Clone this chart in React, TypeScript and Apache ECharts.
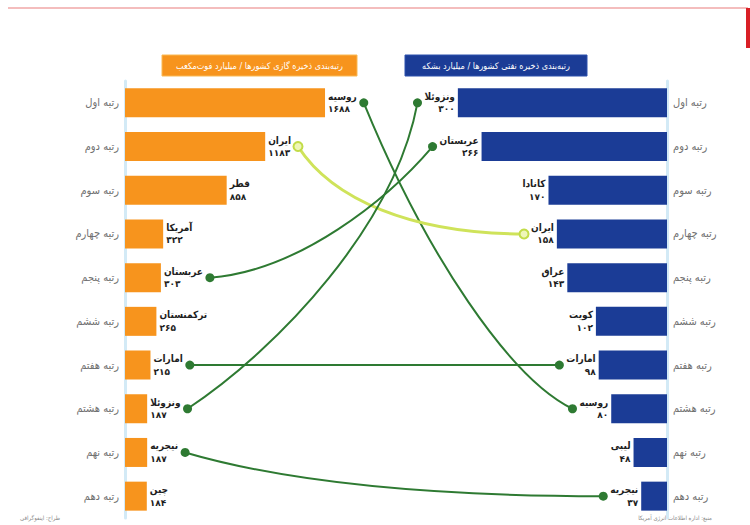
import React, { useEffect, useRef } from 'react';
import * as echarts from 'echarts';

// ---------- data ----------
const ranks = ['رتبه اول', 'رتبه دوم', 'رتبه سوم', 'رتبه چهارم', 'رتبه پنجم', 'رتبه ششم', 'رتبه هفتم', 'رتبه هشتم', 'رتبه نهم', 'رتبه دهم'];
const gasCountries = ['روسیه', 'ایران', 'قطر', 'آمریکا', 'عربستان', 'ترکمنستان', 'امارات', 'ونزوئلا', 'نیجریه', 'چین'];
const gasValues = [1688, 1183, 858, 322, 303, 265, 215, 187, 187, 184];
const oilCountries = ['ونزوئلا', 'عربستان', 'کانادا', 'ایران', 'عراق', 'کویت', 'امارات', 'روسیه', 'لیبی', 'نیجریه'];
const oilValues = [300, 266, 170, 158, 143, 102, 98, 80, 48, 37];
const gasTitle = 'رتبه‌بندی ذخیره گازی کشورها / میلیارد فوت‌مکعب';
const oilTitle = 'رتبه‌بندی ذخیره نفتی کشورها / میلیارد بشکه';
const sourceText = 'منبع: اداره اطلاعات انرژی آمریکا';
const creditText = 'طراح: اینفوگرافی';

// ---------- styles ----------
const FONT = '"DejaVu Sans Condensed", "DejaVu Sans", sans-serif';
const NUM_FONT = '"DejaVu Sans", sans-serif';
const ORANGE = '#f7941d';
const BLUE = '#1b3c96';
const GREEN = '#2e7a32';
const LIME = '#cfe35a';
// control point fractions (of dx, dy from the start point) for each link's curve
const curveShape: Record<string, { c1: [number, number]; c2: [number, number]; color: string; width: number }> = {
  'روسیه': { c1: [0.3, 0.5], c2: [0.7, 0.9], color: GREEN, width: 2 },
  'ایران': { c1: [0.15, 0.6], c2: [0.5, 1.0], color: LIME, width: 3 },
  'عربستان': { c1: [0.4, 0.05], c2: [0.8, 0.6], color: GREEN, width: 2 },
  'امارات': { c1: [0.33, 0.33], c2: [0.67, 0.67], color: GREEN, width: 2 },
  'ونزوئلا': { c1: [0.4, 0.2], c2: [0.9, 0.6], color: GREEN, width: 2 },
  'نیجریه': { c1: [0.25, 0.7], c2: [0.6, 1.0], color: GREEN, width: 2 },
};

const faDigits = '۰۱۲۳۴۵۶۷۸۹';
const toFa = (n: number) => String(n).replace(/\d/g, (d) => faDigits[Number(d)]);

const NAME_SIZE = 10;
const VAL_SIZE = 9;
const NAME_FONT = `bold ${NAME_SIZE}px ${FONT}`;
const VAL_FONT = `bold ${VAL_SIZE}px ${NUM_FONT}`;
const LABEL_DIST = 3;
const DOT_GAP = 7;

let measureCtx: CanvasRenderingContext2D | null = null;
function textWidth(text: string, font: string) {
  if (!measureCtx) measureCtx = document.createElement('canvas').getContext('2d');
  if (!measureCtx) return text.length * 6;
  measureCtx.font = font;
  return measureCtx.measureText(text).width;
}

const richLabel = {
  n: { fontSize: NAME_SIZE, fontWeight: 'bold', color: '#1e1e1e', fontFamily: FONT, lineHeight: 13 },
  v: { fontSize: VAL_SIZE, fontWeight: 'bold', color: '#1e1e1e', fontFamily: NUM_FONT, lineHeight: 13 },
};

export default function App() {
  const ref = useRef<HTMLDivElement>(null);

  useEffect(() => {
    if (!ref.current) return;
    const chart = echarts.init(ref.current, undefined, { renderer: 'svg' });

    const catAxisLabel = { color: '#707070', fontSize: 11, fontFamily: FONT, margin: 6 };
    const axisLine = { show: true, lineStyle: { color: '#d3eaf6', width: 3 } };

    chart.setOption({
      animation: false,
      backgroundColor: '#ffffff',
      grid: [
        { left: 125, top: 81, width: 237, height: 437 },
        { right: 83, top: 81, width: 244, height: 437 },
      ],
      xAxis: [
        { gridIndex: 0, type: 'value', min: 0, max: 2000, show: false },
        { gridIndex: 1, type: 'value', min: 0, max: 350, inverse: true, show: false },
      ],
      yAxis: [
        { gridIndex: 0, type: 'category', data: ranks, inverse: true, axisLine, axisTick: { show: false }, axisLabel: catAxisLabel, splitLine: { show: false } },
        { gridIndex: 1, type: 'category', data: ranks, inverse: true, position: 'right', axisLine, axisTick: { show: false }, axisLabel: catAxisLabel, splitLine: { show: false } },
      ],
      series: [
        {
          type: 'bar',
          xAxisIndex: 0,
          yAxisIndex: 0,
          data: gasValues,
          barWidth: 29,
          itemStyle: { color: ORANGE },
          label: {
            show: true,
            position: 'right',
            distance: LABEL_DIST,
            align: 'left',
            formatter: (p: any) => `{n|${gasCountries[p.dataIndex]}}\n{v|${toFa(gasValues[p.dataIndex])}}`,
            rich: richLabel,
          },
        },
        {
          type: 'bar',
          xAxisIndex: 1,
          yAxisIndex: 1,
          data: oilValues,
          barWidth: 29,
          itemStyle: { color: BLUE },
          label: {
            show: true,
            position: 'left',
            distance: LABEL_DIST,
            align: 'right',
            formatter: (p: any) => `{n|${oilCountries[p.dataIndex]}}\n{v|${toFa(oilValues[p.dataIndex])}}`,
            rich: { n: { ...richLabel.n, align: 'right' }, v: { ...richLabel.v, align: 'right' } },
          },
        },
      ],
    });

    // ---- links between the same countries in both rankings ----
    const linkEls: any[] = [];
    const dotEls: any[] = [];
    gasCountries.forEach((c, gi) => {
      const oi = oilCountries.indexOf(c);
      if (oi < 0) return;
      const gp = chart.convertToPixel({ xAxisIndex: 0, yAxisIndex: 0 }, [gasValues[gi], gi]) as number[];
      const op = chart.convertToPixel({ xAxisIndex: 1, yAxisIndex: 1 }, [oilValues[oi], oi]) as number[];
      const gw = Math.max(textWidth(c, NAME_FONT), textWidth(toFa(gasValues[gi]), VAL_FONT));
      const ow = Math.max(textWidth(c, NAME_FONT), textWidth(toFa(oilValues[oi]), VAL_FONT));
      const x1 = gp[0] + LABEL_DIST + gw + DOT_GAP;
      const y1 = gp[1];
      const x2 = op[0] - LABEL_DIST - ow - DOT_GAP;
      const y2 = op[1];
      const dx = x2 - x1;
      const dy = y2 - y1;
      const s = curveShape[c] || { c1: [0.4, 0.1], c2: [0.6, 0.9], color: GREEN, width: 2 };
      linkEls.push({
        type: 'bezierCurve',
        z: 20,
        silent: true,
        shape: {
          x1, y1, x2, y2,
          cpx1: x1 + s.c1[0] * dx, cpy1: y1 + s.c1[1] * dy,
          cpx2: x1 + s.c2[0] * dx, cpy2: y1 + s.c2[1] * dy,
        },
        style: { stroke: s.color, lineWidth: s.width, fill: null },
      });
      const isLime = s.color === LIME;
      [[x1, y1], [x2, y2]].forEach(([cx, cy]) => {
        dotEls.push({
          type: 'circle',
          z: 21,
          silent: true,
          shape: { cx, cy, r: 4.5 },
          style: isLime ? { fill: '#eef6b8', stroke: '#c2dc48', lineWidth: 2 } : { fill: GREEN },
        });
      });
    });

    const titleBox = (x: number, w: number, fill: string, text: string) => ({
      type: 'group',
      children: [
        { type: 'rect', shape: { x, y: 55, width: w, height: 21 }, style: { fill, stroke: fill === ORANGE ? '#f9b955' : '#2c51ad', lineWidth: 1 } },
        {
          type: 'text',
          x: x + w / 2,
          y: 65.5,
          style: { text, fill: '#ffffff', font: `9px ${FONT}`, align: 'center', verticalAlign: 'middle' },
        },
      ],
    });

    chart.setOption({
      graphic: [
        { type: 'line', shape: { x1: 8, y1: 8, x2: 748, y2: 8 }, style: { stroke: '#f1a7a7', lineWidth: 1.5 } },
        { type: 'rect', shape: { x: 746, y: 8, width: 4, height: 40 }, style: { fill: '#d91f26' } },
        titleBox(162, 195, ORANGE, gasTitle),
        titleBox(405, 182, BLUE, oilTitle),
        { type: 'text', x: 20, y: 517, style: { text: creditText, fill: '#888', font: `6px ${FONT}`, align: 'left', verticalAlign: 'middle' } },
        { type: 'text', x: 712, y: 517, style: { text: sourceText, fill: '#888', font: `6px ${FONT}`, align: 'right', verticalAlign: 'middle' } },
        ...linkEls,
        ...dotEls,
      ],
    });

    return () => chart.dispose();
  }, []);

  return <div ref={ref} style={{ position: 'fixed', left: 0, top: 0, width: 750, height: 525 }} />;
}
